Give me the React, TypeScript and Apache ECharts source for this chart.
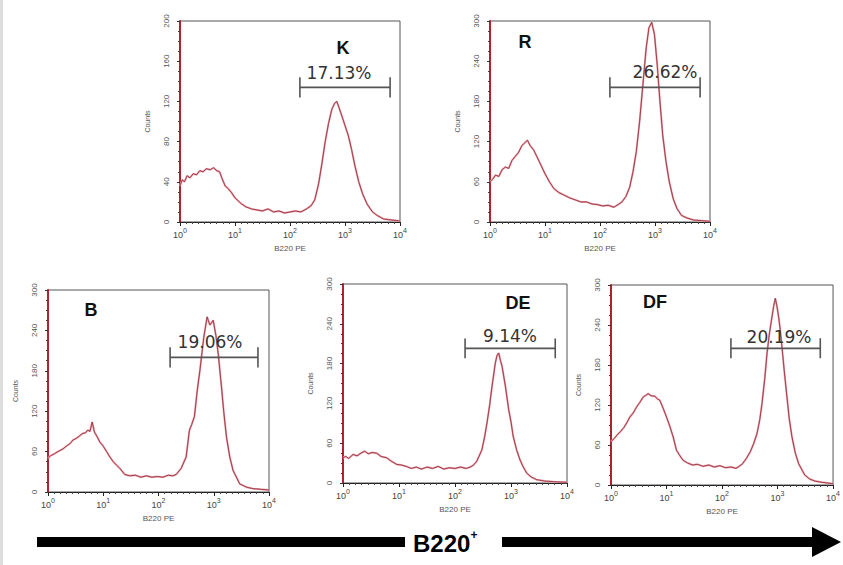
import React, { useEffect, useRef } from "react";
import * as echarts from "echarts";

// ---- data ----
const panelNames = ["K", "R", "B", "DE", "DF"];
const gatePercents = ["17.13%", "26.62%", "19.06%", "9.14%", "20.19%"];
const yMaxes = [200, 300, 300, 300, 300];
const yIntervals = [40, 60, 60, 60, 60];

// [log10(B220 PE), counts]
const kCurve = [
  [0, 36], [0.04, 42], [0.08, 40], [0.13, 46], [0.18, 44], [0.24, 48], [0.3, 47], [0.36, 51], [0.42, 50], [0.48, 53],
  [0.55, 52], [0.61, 54], [0.67, 51], [0.72, 50], [0.76, 44], [0.82, 36], [0.88, 33], [0.94, 29], [1.0, 24], [1.06, 21],
  [1.12, 18], [1.2, 15], [1.3, 13], [1.4, 12], [1.5, 11], [1.6, 13], [1.7, 10], [1.8, 11], [1.9, 9], [2.0, 10],
  [2.1, 11], [2.2, 10], [2.3, 13], [2.38, 16], [2.45, 22], [2.52, 38], [2.58, 58], [2.64, 80], [2.7, 98], [2.76, 112],
  [2.81, 118], [2.85, 120], [2.89, 114], [2.94, 106], [3.0, 96], [3.06, 86], [3.12, 72], [3.18, 56], [3.25, 40], [3.32, 28],
  [3.4, 18], [3.5, 10], [3.6, 6], [3.7, 3], [3.85, 2], [4.0, 1],
];
const rCurve = [
  [0, 60], [0.05, 64], [0.1, 70], [0.16, 68], [0.22, 78], [0.28, 82], [0.34, 80], [0.4, 92], [0.46, 98], [0.52, 104],
  [0.58, 114], [0.63, 118], [0.68, 122], [0.73, 114], [0.79, 108], [0.85, 98], [0.92, 86], [1.0, 72], [1.08, 60], [1.16, 50],
  [1.25, 44], [1.35, 40], [1.45, 36], [1.55, 33], [1.65, 30], [1.75, 30], [1.85, 27], [1.95, 26], [2.05, 24], [2.15, 25],
  [2.25, 22], [2.33, 26], [2.4, 30], [2.47, 38], [2.54, 52], [2.6, 75], [2.66, 105], [2.72, 150], [2.78, 205], [2.84, 260],
  [2.89, 290], [2.94, 298], [2.99, 280], [3.04, 235], [3.09, 180], [3.14, 130], [3.2, 90], [3.26, 60], [3.33, 35], [3.4, 20],
  [3.48, 10], [3.58, 6], [3.7, 3], [3.85, 2], [4.0, 1],
];
const bCurve = [
  [0, 50], [0.05, 54], [0.12, 57], [0.18, 60], [0.27, 64], [0.33, 68], [0.4, 72], [0.45, 77], [0.52, 80], [0.58, 84],
  [0.63, 87], [0.68, 88], [0.72, 92], [0.76, 90], [0.8, 104], [0.84, 89], [0.89, 82], [0.94, 74], [1.0, 68], [1.06, 60],
  [1.12, 52], [1.18, 45], [1.24, 40], [1.3, 35], [1.39, 26], [1.48, 24], [1.58, 25], [1.68, 22], [1.78, 24], [1.88, 22],
  [1.98, 23], [2.08, 22], [2.18, 25], [2.26, 24], [2.32, 26], [2.41, 35], [2.5, 52], [2.56, 92], [2.6, 100], [2.65, 112],
  [2.7, 150], [2.75, 181], [2.82, 230], [2.88, 260], [2.93, 248], [2.99, 255], [3.04, 232], [3.08, 206], [3.14, 156], [3.18, 120],
  [3.23, 82], [3.29, 52], [3.35, 32], [3.47, 12], [3.6, 7], [3.71, 5], [3.85, 4], [4.0, 3],
];
const deCurve = [
  [0, 38], [0.05, 40], [0.1, 37], [0.18, 43], [0.25, 41], [0.32, 45], [0.39, 48], [0.45, 44], [0.52, 46], [0.6, 45],
  [0.68, 40], [0.78, 38], [0.86, 33], [0.96, 28], [1.05, 27], [1.13, 25], [1.22, 22], [1.31, 24], [1.4, 21], [1.5, 24],
  [1.6, 22], [1.7, 25], [1.8, 21], [1.9, 23], [2.0, 22], [2.1, 24], [2.2, 22], [2.27, 24], [2.33, 27], [2.39, 33],
  [2.48, 50], [2.53, 70], [2.57, 90], [2.62, 118], [2.66, 145], [2.72, 181], [2.75, 192], [2.78, 196], [2.81, 185], [2.84, 176],
  [2.9, 146], [2.96, 110], [3.0, 92], [3.04, 70], [3.1, 50], [3.16, 35], [3.22, 24], [3.28, 15], [3.36, 9], [3.46, 5],
  [3.6, 3], [3.76, 2], [4.0, 1],
];
const dfCurve = [
  [0, 65], [0.06, 70], [0.12, 76], [0.17, 80], [0.23, 86], [0.29, 94], [0.34, 102], [0.4, 108], [0.46, 117], [0.52, 124],
  [0.58, 132], [0.62, 134], [0.67, 137], [0.72, 134], [0.79, 133], [0.84, 129], [0.88, 127], [0.94, 115], [1.0, 102], [1.06, 88],
  [1.12, 72], [1.18, 52], [1.24, 44], [1.3, 37], [1.38, 33], [1.47, 30], [1.56, 31], [1.66, 28], [1.76, 30], [1.86, 27],
  [1.96, 29], [2.06, 26], [2.16, 27], [2.25, 25], [2.31, 28], [2.37, 32], [2.44, 40], [2.51, 50], [2.57, 62], [2.63, 77],
  [2.68, 98], [2.72, 122], [2.77, 160], [2.81, 197], [2.85, 225], [2.89, 247], [2.93, 268], [2.96, 280], [2.99, 268], [3.02, 252],
  [3.05, 232], [3.08, 207], [3.12, 172], [3.17, 132], [3.21, 100], [3.26, 72], [3.32, 48], [3.38, 32], [3.49, 15], [3.58, 9],
  [3.67, 6], [3.8, 4], [4.0, 2],
];
const curves = [kCurve, rCurve, bCurve, deCurve, dfCurve];

// gate brackets (log10 units / counts)
const gateStart = [2.18, 2.18, 2.21, 2.18, 2.16];
const gateEnd = [3.82, 3.82, 3.8, 3.79, 3.77];
const gateLevel = [134, 201, 200, 203, 205];
const gateHalfTick = [10, 15, 15, 15, 15];

// ---- layout (pixels) ----
const grids = [
  { left: 180, top: 21, width: 220, height: 201 },
  { left: 490, top: 21, width: 220, height: 201 },
  { left: 48, top: 290, width: 221, height: 202 },
  { left: 343, top: 284, width: 224, height: 199 },
  { left: 611, top: 285, width: 224, height: 200 },
];
const letterPos = [[343, 48], [525, 42], [91, 310], [518, 303], [655, 302]];
const percentPos = [[339, 73], [665, 72], [210, 342], [510, 336], [779, 337]];

export default function App() {
  const ref = useRef<HTMLDivElement>(null);
  useEffect(() => {
    if (!ref.current) return;
    const chart = echarts.init(ref.current, undefined, { renderer: "svg" });
    const xAxis: any[] = [];
    const yAxis: any[] = [];
    const series: any[] = [];
    const graphic: any[] = [];
    grids.forEach((g, i) => {
      xAxis.push({
        type: "value",
        gridIndex: i,
        min: 0,
        max: 4,
        interval: 1,
        name: "B220 PE",
        nameLocation: "middle",
        nameGap: 22,
        nameTextStyle: { fontSize: 8, color: "#555", fontFamily: "Liberation Sans" },
        axisLine: { show: true, lineStyle: { color: "#222", width: 1 } },
        axisTick: { show: true, length: 4, lineStyle: { color: "#222" } },
        minorTick: { show: true, splitNumber: 9, length: 2, lineStyle: { color: "#444" } },
        splitLine: { show: false },
        axisLabel: {
          margin: 5,
          formatter: (v: number) => `{b|10}{s|${v}}`,
          rich: {
            b: { fontSize: 9, color: "#444", fontFamily: "Liberation Sans", verticalAlign: "bottom", lineHeight: 12 },
            s: { fontSize: 7, color: "#444", fontFamily: "Liberation Sans", verticalAlign: "top", lineHeight: 12 },
          },
        },
      });
      yAxis.push({
        type: "value",
        gridIndex: i,
        min: 0,
        max: yMaxes[i],
        interval: yIntervals[i],
        name: "Counts",
        nameLocation: "middle",
        nameGap: 29,
        nameRotate: 90,
        nameTextStyle: { fontSize: 7, color: "#555", fontFamily: "Liberation Sans" },
        axisLine: { show: true, lineStyle: { color: "#b3202e", width: 2 } },
        axisTick: { show: true, length: 3, lineStyle: { color: "#333" } },
        minorTick: { show: true, splitNumber: 4, length: 2, lineStyle: { color: "#7a2a30" } },
        splitLine: { show: false },
        axisLabel: { rotate: 90, fontSize: 8, color: "#555", margin: 10, fontFamily: "Liberation Sans" },
      });
      // halo + line
      series.push({
        type: "line",
        xAxisIndex: i,
        yAxisIndex: i,
        data: curves[i],
        showSymbol: false,
        lineStyle: { color: "#eca5ad", width: 2 },
        z: 2,
      });
      series.push({
        type: "line",
        xAxisIndex: i,
        yAxisIndex: i,
        data: curves[i],
        showSymbol: false,
        lineStyle: { color: "#8a2433", width: 0.8 },
        z: 3,
      });
      // gate bracket
      const gl = gateLevel[i];
      const h = gateHalfTick[i];
      const bracketParts = [
        [[gateStart[i], gl], [gateEnd[i], gl]],
        [[gateStart[i], gl - h], [gateStart[i], gl + h]],
        [[gateEnd[i], gl - h], [gateEnd[i], gl + h]],
      ];
      bracketParts.forEach((d) => {
        series.push({
          type: "line",
          xAxisIndex: i,
          yAxisIndex: i,
          data: d,
          showSymbol: false,
          lineStyle: { color: "#555", width: 1.6 },
          z: 4,
        });
      });
      graphic.push({
        type: "text",
        x: letterPos[i][0],
        y: letterPos[i][1],
        style: {
          text: panelNames[i],
          fontSize: 18,
          fontWeight: "bold",
          fontFamily: "Liberation Sans",
          fill: "#111",
          align: "center",
          verticalAlign: "middle",
        },
        z: 10,
      });
      graphic.push({
        type: "text",
        x: percentPos[i][0],
        y: percentPos[i][1],
        style: {
          text: gatePercents[i],
          fontSize: 17,
          fontFamily: "DejaVu Sans",
          fill: "#333",
          align: "center",
          verticalAlign: "middle",
        },
        z: 10,
      });
    });

    // bottom arrow
    graphic.push({ type: "rect", shape: { x: 0, y: 0, width: 3, height: 565 }, style: { fill: "#dddddd" } });
    graphic.push({ type: "rect", shape: { x: 37, y: 537, width: 368, height: 10 }, style: { fill: "#000" } });
    graphic.push({
      type: "text",
      x: 413,
      y: 542,
      style: {
        text: "{m|B220}{p|+}",
        rich: {
          m: { fontSize: 24, fontWeight: "bold", fontFamily: "Liberation Sans", fill: "#000", verticalAlign: "bottom", lineHeight: 26 },
          p: { fontSize: 12, fontWeight: "bold", fontFamily: "Liberation Sans", fill: "#000", verticalAlign: "top", lineHeight: 26 },
        },
        verticalAlign: "middle",
      },
    });
    graphic.push({ type: "rect", shape: { x: 502, y: 537, width: 314, height: 10 }, style: { fill: "#000" } });
    graphic.push({
      type: "polygon",
      shape: { points: [[812, 527], [841, 542], [812, 557]] },
      style: { fill: "#000" },
    });

    chart.setOption({
      animation: false,
      backgroundColor: "#fff",
      grid: grids.map((g) => ({ ...g, show: true, borderColor: "#555", borderWidth: 1, backgroundColor: "transparent" })),
      xAxis,
      yAxis,
      series,
      graphic,
    });
    return () => chart.dispose();
  }, []);
  return (
    <div
      ref={ref}
      style={{ position: "fixed", left: 0, top: 0, width: 843, height: 565, background: "#fff" }}
    />
  );
}
